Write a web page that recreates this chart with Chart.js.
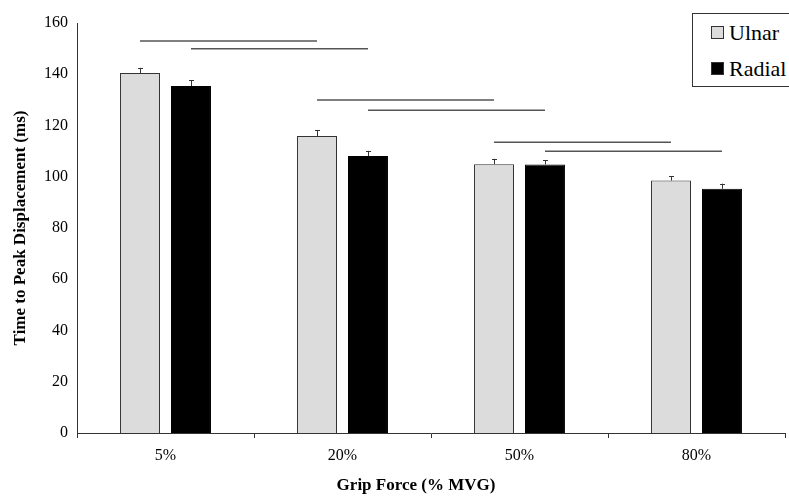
<!DOCTYPE html>
<html>
<head>
<meta charset="utf-8">
<script src="https://cdn.jsdelivr.net/npm/chart.js@4.4.1/dist/chart.umd.min.js"></script>
<style>
  html, body { margin: 0; padding: 0; background: #fff; overflow: hidden; }
  #wrap { position: relative; width: 789px; height: 498px; }
  #legend {
    position: absolute; left: 692px; top: 13px; width: 110px; height: 72px;
    border: 1px solid #333; background: #fff;
    font-family: "Liberation Serif", "Times New Roman", serif; font-size: 22px; color: #000;
  }
  .item { position: absolute; left: 18px; height: 24px; line-height: 24px; white-space: nowrap; }
  .box { display: inline-block; width: 11px; height: 11px; border: 1px solid #333; margin-right: 5px; vertical-align: 1px; }
  #xtitle {
    position: absolute; left: 316px; width: 200px; top: 475px; text-align: center;
    font-family: "Liberation Serif", "Times New Roman", serif; font-size: 17px; font-weight: bold; color: #000;
  }
</style>
</head>
<body>
<div id="wrap">
  <canvas id="chart"></canvas>
  <div id="legend">
    <div class="item" style="top:7px"><span class="box" style="background:#dcdcdc"></span>Ulnar</div>
    <div class="item" style="top:43px"><span class="box" style="background:#000"></span>Radial</div>
  </div>
  <div id="xtitle">Grip Force (% MVG)</div>
</div>
<script>
// datos
const categories = ['5%', '20%', '50%', '80%'];
const ulnar = [140.5, 115.9, 104.9, 98.5];
const radial = [135.4, 108.1, 104.8, 95.3];
const ulnarErr = [2.0, 2.2, 2.1, 1.7];
const radialErr = [2.2, 2.0, 1.7, 2.0];
const yTicks = [0, 20, 40, 60, 80, 100, 120, 140, 160];

// líneas de significancia: [serie, categoría desde, categoría hasta, valor y]
const sigFrom = [0, 1, 0, 1, 0, 1];
const sigCatA = [0, 0, 1, 1, 2, 2];
const sigCatB = [1, 1, 2, 2, 3, 3];
const sigY = [153, 150, 130, 126, 113.5, 110];

const errores = [ulnarErr, radialErr];

// plugin: barras de error (solo hacia arriba) y líneas de comparación
const extrasPlugin = {
    id: 'extras',
    afterDatasetsDraw(chart) {
        const ctx = chart.ctx;
        const y = chart.scales.y;
        ctx.save();
        ctx.strokeStyle = '#333';
        ctx.lineWidth = 1;
        chart.data.datasets.forEach((ds, di) => {
            const meta = chart.getDatasetMeta(di);
            meta.data.forEach((bar, i) => {
                const top = y.getPixelForValue(ds.data[i] + errores[di][i]);
                const x = Math.round(bar.x) + 0.5;
                ctx.beginPath();
                ctx.moveTo(x, bar.y);
                ctx.lineTo(x, top);
                ctx.moveTo(x - 2.5, Math.round(top) + 0.5);
                ctx.lineTo(x + 2.5, Math.round(top) + 0.5);
                ctx.stroke();
            });
        });
        ctx.strokeStyle = '#555';
        ctx.lineWidth = 1.5;
        sigY.forEach((val, k) => {
            const meta = chart.getDatasetMeta(sigFrom[k]);
            const x1 = meta.data[sigCatA[k]].x;
            const x2 = meta.data[sigCatB[k]].x;
            const py = y.getPixelForValue(val);
            ctx.beginPath();
            ctx.moveTo(x1, py);
            ctx.lineTo(x2, py);
            ctx.stroke();
        });
        ctx.restore();
    }
};

const serif = '"Liberation Serif", "Times New Roman", serif';

new Chart(document.getElementById('chart'), {
    type: 'bar',
    data: {
        labels: categories,
        datasets: [
            { label: 'Ulnar', data: ulnar, backgroundColor: '#dcdcdc', borderColor: '#333', borderWidth: 1,
              categoryPercentage: 0.576, barPercentage: 0.784 },
            { label: 'Radial', data: radial, backgroundColor: '#000', borderColor: '#000', borderWidth: 1,
              categoryPercentage: 0.576, barPercentage: 0.784 }
        ]
    },
    options: {
        responsive: true,
        maintainAspectRatio: false,
        animation: false,
        layout: { padding: { top: 23, right: 4, left: 0, bottom: 0 } },
        plugins: { legend: { display: false }, tooltip: { enabled: false } },
        scales: {
            x: {
                grid: { display: true, drawOnChartArea: false, drawTicks: true, tickLength: 5, color: '#333', offset: true },
                border: { display: true, color: '#333', width: 1 },
                ticks: { color: '#000', padding: 8, font: { family: serif, size: 16 } },
                afterFit: (s) => { s.height = 65; }
            },
            y: {
                min: 0, max: 160,
                afterBuildTicks: (s) => { s.ticks = yTicks.map(v => ({ value: v })); },
                grid: { display: false, drawTicks: false },
                border: { display: true, color: '#333', width: 1 },
                ticks: { color: '#000', padding: 9, font: { family: serif, size: 16 } },
                title: { display: true, text: 'Time to Peak Displacement (ms)', color: '#000',
                         font: { family: serif, size: 17, weight: 'bold' }, padding: { top: 10, bottom: 0 } },
                afterFit: (s) => { s.width = 77; }
            }
        }
    },
    plugins: [extrasPlugin]
});
</script>
</body>
</html>
